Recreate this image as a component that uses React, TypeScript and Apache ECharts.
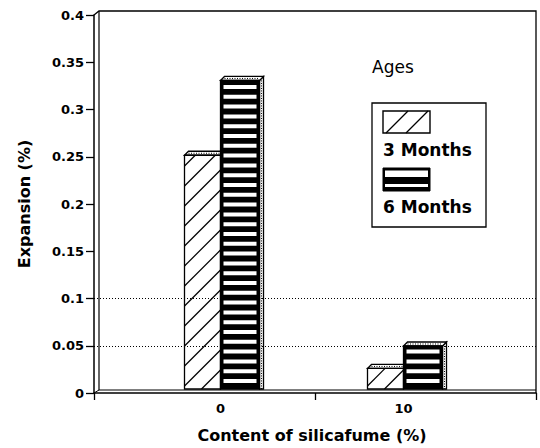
import React, { useEffect, useRef } from 'react';
import * as echarts from 'echarts';

// ---- data ----
const categories = ['0', '10'];
const seriesNames = ['3 Months', '6 Months'];
const months3 = [0.25, 0.022];
const months6 = [0.33, 0.046];
const guideLevels = [0.05, 0.1];
const yMin = 0;
const yMax = 0.4;
const yStep = 0.05;
const legendTitle = 'Ages';
const xTitle = 'Content of silicafume (%)';
const yTitle = 'Expansion (%)';

// ---- styles ----
const FONT = "'DejaVu Sans', 'Liberation Sans', sans-serif";
const BAR3_W = 36;
const BAR6_W = 39;
const DEPTH = 4;
const HATCH_GAP = 20;
const HATCH_SLOPE = 1;
const STRIPE_PERIOD = 9.8;
const STRIPE_H = 4;
const LW = 1.3;

function hatchLines(left: number, right: number, top: number, base: number) {
  const out: any[] = [];
  const w = right - left;
  const phase = 3;
  for (let k = -10; k < 200; k++) {
    const c = base - phase - HATCH_GAP * k;
    if (c < top) break;
    if (c - HATCH_SLOPE * w > base) continue;
    const x1 = Math.max(left, left + (c - base) / HATCH_SLOPE);
    const x2 = Math.min(right, left + (c - top) / HATCH_SLOPE);
    if (x2 <= x1) continue;
    out.push({
      type: 'line',
      shape: {
        x1, y1: c - HATCH_SLOPE * (x1 - left),
        x2, y2: c - HATCH_SLOPE * (x2 - left),
      },
      style: { stroke: '#000', lineWidth: 1.2 },
    });
  }
  return out;
}

function topFace(left: number, right: number, top: number) {
  return [
    {
      type: 'polygon',
      shape: { points: [[left, top], [left + DEPTH, top - DEPTH], [right + DEPTH, top - DEPTH], [right, top]] },
      style: { fill: '#fff', stroke: '#000', lineWidth: LW },
    },
    {
      type: 'line',
      shape: { x1: left + DEPTH, y1: top - DEPTH / 2, x2: right, y2: top - DEPTH / 2 },
      style: { stroke: '#000', lineWidth: 1, lineDash: [1, 1.5] },
    },
  ];
}

function render3(params: any, api: any) {
  const idx = api.value(0);
  const v = api.value(1);
  const [cx, base] = api.coord([idx, 0]);
  const top = api.coord([idx, v])[1];
  const left = cx - BAR3_W;
  const right = cx;
  return {
    type: 'group',
    children: [
      ...topFace(left, right, top),
      {
        type: 'rect',
        shape: { x: left, y: top, width: BAR3_W, height: base - top },
        style: { fill: '#fff', stroke: '#000', lineWidth: LW },
      },
      ...hatchLines(left, right, top, base),
    ],
  };
}

function render6(params: any, api: any) {
  const idx = api.value(0);
  const v = api.value(1);
  const [cx, base] = api.coord([idx, 0]);
  const top = api.coord([idx, v])[1];
  const left = cx;
  const right = cx + BAR6_W;
  const stripes: any[] = [];
  for (let yb = base - 6; yb - STRIPE_H > top + 2; yb -= STRIPE_PERIOD) {
    stripes.push({
      type: 'rect',
      shape: { x: left + 3, y: yb - STRIPE_H, width: BAR6_W - 6, height: STRIPE_H },
      style: { fill: '#fff' },
    });
  }
  return {
    type: 'group',
    children: [
      {
        type: 'polygon',
        shape: { points: [[right, top], [right + DEPTH, top - DEPTH], [right + DEPTH, base], [right, base]] },
        style: { fill: '#fff', stroke: '#000', lineWidth: LW },
      },
      {
        type: 'line',
        shape: { x1: right + DEPTH / 2, y1: top, x2: right + DEPTH / 2, y2: base },
        style: { stroke: '#000', lineWidth: 1, lineDash: [1, 1.5] },
      },
      ...topFace(left, right, top),
      {
        type: 'rect',
        shape: { x: left, y: top, width: BAR6_W, height: base - top },
        style: { fill: '#000', stroke: '#000', lineWidth: LW },
      },
      ...stripes,
    ],
  };
}

export default function App() {
  const ref = useRef<HTMLDivElement>(null);
  useEffect(() => {
    if (!ref.current) return;
    const chart = echarts.init(ref.current, null, { renderer: 'svg' });
    const labelStyle = { color: '#000', fontFamily: FONT, fontWeight: 'bold' as const, fontSize: 13 };
    const option: any = {
      animation: false,
      backgroundColor: '#fff',
      grid: [
        { left: 94, right: 4, top: 15, bottom: 55 },
        { left: 129, right: 45, top: 15, bottom: 55 },
      ],
      xAxis: [
        {
          type: 'category', gridIndex: 0, data: categories, boundaryGap: true,
          axisLine: { show: true, lineStyle: { color: '#000', width: 1.5 } },
          axisTick: { show: true, length: 7, lineStyle: { color: '#000', width: 1.3 } },
          axisLabel: { show: false },
          splitLine: { show: false },
        },
        {
          type: 'category', gridIndex: 1, data: categories, boundaryGap: true,
          axisLine: { show: false }, axisTick: { show: false },
          axisLabel: { ...labelStyle, margin: 13 },
          name: xTitle, nameLocation: 'middle', nameGap: 38,
          nameTextStyle: { color: '#000', fontFamily: FONT, fontWeight: 'bold', fontSize: 16 },
        },
      ],
      yAxis: [
        {
          type: 'value', gridIndex: 0, min: yMin, max: yMax, interval: yStep,
          axisLine: { show: true, lineStyle: { color: '#000', width: 1.5 } },
          axisTick: { show: true, length: 8, lineStyle: { color: '#000', width: 1.3 } },
          axisLabel: { ...labelStyle, margin: 10 },
          splitLine: { show: false },
          name: yTitle, nameLocation: 'middle', nameGap: 62, nameRotate: 90,
          nameTextStyle: { color: '#000', fontFamily: FONT, fontWeight: 'bold', fontSize: 16 },
        },
        {
          type: 'value', gridIndex: 1, min: yMin, max: yMax, interval: yStep, show: false,
        },
      ],
      graphic: [
        {
          type: 'polyline', z: 0, silent: true,
          shape: { points: [[94, 15], [99, 11], [536, 11], [536, 393]] },
          style: { fill: 'none', stroke: '#000', lineWidth: 1.3 },
        },
        {
          type: 'polyline', z: 0, silent: true,
          shape: { points: [[99, 11], [99, 390], [536, 390]] },
          style: { fill: 'none', stroke: '#000', lineWidth: 1.2 },
        },
        {
          type: 'line', z: 0, silent: true,
          shape: { x1: 94, y1: 393, x2: 99, y2: 390 },
          style: { stroke: '#000', lineWidth: 1 },
        },
        {
          type: 'text', z: 100, x: 372, y: 67,
          style: { text: legendTitle, fontFamily: FONT, fontSize: 17, fill: '#000', align: 'left', verticalAlign: 'middle' },
        },
        {
          type: 'rect', z: 100,
          shape: { x: 372, y: 103, width: 114, height: 124 },
          style: { fill: '#fff', stroke: '#000', lineWidth: 1.3 },
        },
        {
          type: 'rect', z: 101,
          shape: { x: 383, y: 111, width: 47, height: 22 },
          style: { fill: '#fff', stroke: '#000', lineWidth: 1.4 },
        },
        { type: 'line', z: 102, shape: { x1: 386, y1: 133, x2: 408, y2: 111 }, style: { stroke: '#000', lineWidth: 1.2 } },
        { type: 'line', z: 102, shape: { x1: 406, y1: 133, x2: 428, y2: 111 }, style: { stroke: '#000', lineWidth: 1.2 } },
        {
          type: 'text', z: 101, x: 383, y: 150,
          style: { text: seriesNames[0], fontFamily: FONT, fontWeight: 'bold', fontSize: 17, fill: '#000', align: 'left', verticalAlign: 'middle' },
        },
        {
          type: 'rect', z: 101,
          shape: { x: 383, y: 168, width: 47, height: 23 },
          style: { fill: '#000', stroke: '#000', lineWidth: 1 },
        },
        { type: 'rect', z: 102, shape: { x: 385, y: 170.5, width: 43, height: 6.5 }, style: { fill: '#fff' } },
        { type: 'rect', z: 102, shape: { x: 385, y: 184, width: 43, height: 3 }, style: { fill: '#fff' } },
        {
          type: 'text', z: 101, x: 383, y: 207,
          style: { text: seriesNames[1], fontFamily: FONT, fontWeight: 'bold', fontSize: 17, fill: '#000', align: 'left', verticalAlign: 'middle' },
        },
      ],
      series: [
        {
          type: 'line', xAxisIndex: 0, yAxisIndex: 0, data: [], z: 1, silent: true,
          markLine: {
            silent: true, symbol: ['none', 'none'], label: { show: false },
            lineStyle: { type: [1, 2], color: '#000', width: 1 },
            data: guideLevels.map((v) => ({ yAxis: v })),
          },
        },
        {
          type: 'custom', name: seriesNames[0], xAxisIndex: 1, yAxisIndex: 1, z: 3,
          renderItem: render3,
          data: months3.map((v, i) => [i, v]),
        },
        {
          type: 'custom', name: seriesNames[1], xAxisIndex: 1, yAxisIndex: 1, z: 4,
          renderItem: render6,
          data: months6.map((v, i) => [i, v]),
        },
      ],
    };
    chart.setOption(option);
    return () => chart.dispose();
  }, []);
  return (
    <div
      ref={ref}
      style={{ position: 'fixed', left: 0, top: 0, width: 540, height: 448, background: '#fff' }}
    />
  );
}
